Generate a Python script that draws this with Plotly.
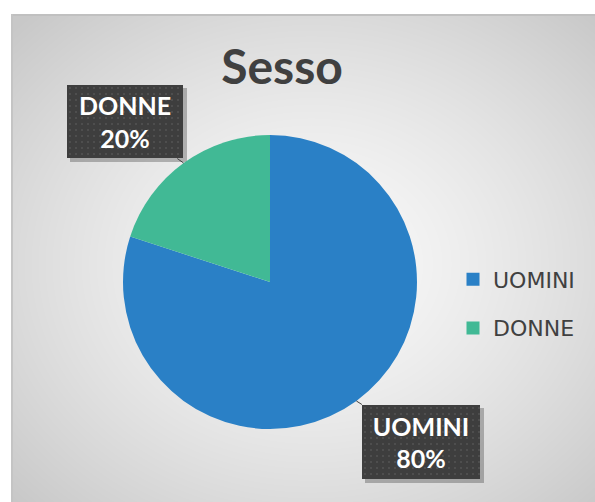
import base64, struct, zlib
import numpy as np
import plotly.graph_objects as go

# ---------------- data ----------------
labels = ["UOMINI", "DONNE"]
values = [80, 20]
percent_text = ["80%", "20%"]
colors = ["#2A80C6", "#41B995"]
title_text = "Sesso"

W, H = 595, 502


def png_uri(arr):
    """arr: HxW (gray) uint8"""
    h, w = arr.shape
    raw = b"".join(b"\x00" + arr[i].tobytes() for i in range(h))

    def chunk(t, d):
        c = struct.pack(">I", len(d)) + t + d
        return c + struct.pack(">I", zlib.crc32(t + d) & 0xFFFFFFFF)

    png = b"\x89PNG\r\n\x1a\n"
    png += chunk(b"IHDR", struct.pack(">IIBBBBB", w, h, 8, 0, 0, 0, 0))
    png += chunk(b"IDAT", zlib.compress(raw, 9))
    png += chunk(b"IEND", b"")
    return "data:image/png;base64," + base64.b64encode(png).decode()


# background radial gradient panel
pw, ph = 584, 488
yy, xx = np.mgrid[0:ph, 0:pw].astype(float)
cx, cy = 300, 250
r = np.sqrt(((xx - cx) / (pw / 2)) ** 2 + ((yy - cy) / (ph / 2)) ** 2) / np.sqrt(2)
bg = (250 - 50 * np.clip(r, 0, 1) ** 1.4).astype(np.uint8)
bg[0:2, :] = 192
bg[:, 0:2] = 196
bg_uri = png_uri(bg)


# dotted dark box texture
def box_img(w, h):
    a = np.full((h, w), 62, np.uint8)
    for dy in (2, 3):
        for dx in (2, 3):
            a[dy::6, dx::6] = 78
    return png_uri(a)


px = lambda x: x / W
py = lambda y: 1 - y / H

fig = go.Figure()
fig.add_trace(go.Pie(
    labels=labels,
    values=values,
    marker=dict(colors=colors, line=dict(width=0)),
    sort=False,
    direction="clockwise",
    rotation=0,
    textinfo="none",
    hoverinfo="label+percent",
    showlegend=False,
    domain=dict(x=[px(123), px(417)], y=[py(429), py(135)]),
))

# legend entries (one per category)
for lab, col in zip(labels, colors):
    fig.add_trace(go.Scatter(
        x=[None], y=[None], mode="markers", name=lab, legendgroup=lab,
        marker=dict(symbol="square", size=13, color=col),
        hoverinfo="skip",
    ))

images = [
    dict(source=bg_uri, xref="paper", yref="paper", x=px(11), y=py(14),
         sizex=pw / W, sizey=ph / H, sizing="stretch", xanchor="left",
         yanchor="top", layer="below"),
]
shapes = []
annotations = []

# label boxes: (label index, box center x, y, width, height, pie-edge point)
boxes = [
    (1, 125, 121.5, 116, 73, 183.6, 163),
    (0, 421, 442, 118, 74, 356.4, 401),
]
for idx, bx, by, bw, bh, ex, ey in boxes:
    images.append(dict(source=box_img(bw, bh), xref="paper", yref="paper",
                       x=px(bx - bw / 2), y=py(by - bh / 2), sizex=bw / W,
                       sizey=bh / H, sizing="stretch", xanchor="left",
                       yanchor="top", layer="above"))
    shapes.append(dict(type="rect", xref="paper", yref="paper",
                       x0=px(bx - bw / 2 + 3), x1=px(bx + bw / 2 + 4),
                       y0=py(by + bh / 2 + 4), y1=py(by - bh / 2 + 3),
                       fillcolor="rgba(0,0,0,0.25)", line=dict(width=0),
                       layer="below"))
    annotations.append(dict(
        xref="paper", yref="paper", x=px(ex), y=py(ey),
        ax=bx - ex, ay=by - ey, axref="pixel", ayref="pixel",
        text="<b>" + labels[idx] + "<br>" + percent_text[idx] + "</b>",
        showarrow=True, arrowhead=0, arrowwidth=1, arrowcolor="#404040",
        width=bw, height=bh, borderpad=0, bgcolor="rgba(0,0,0,0)",
        font=dict(family="Lato", size=25, color="white"), align="center",
    ))

fig.update_layout(
    width=W, height=H,
    margin=dict(l=0, r=0, t=0, b=0),
    paper_bgcolor="white",
    plot_bgcolor="rgba(0,0,0,0)",
    xaxis=dict(visible=False),
    yaxis=dict(visible=False),
    title=dict(text="<b>" + title_text + "</b>", x=px(282), y=py(67),
               xanchor="center", yanchor="middle",
               font=dict(family="Lato", size=48, color="#404040")),
    showlegend=True,
    legend=dict(x=px(453), y=py(304), xanchor="left", yanchor="middle",
                bgcolor="rgba(0,0,0,0)", tracegroupgap=17,
                font=dict(family="DejaVu Sans", size=22, color="#404040")),
    images=images, shapes=shapes, annotations=annotations,
)

fig.write_html("out.html", config={"displayModeBar": False},
               post_script="document.body.style.margin='0';")
